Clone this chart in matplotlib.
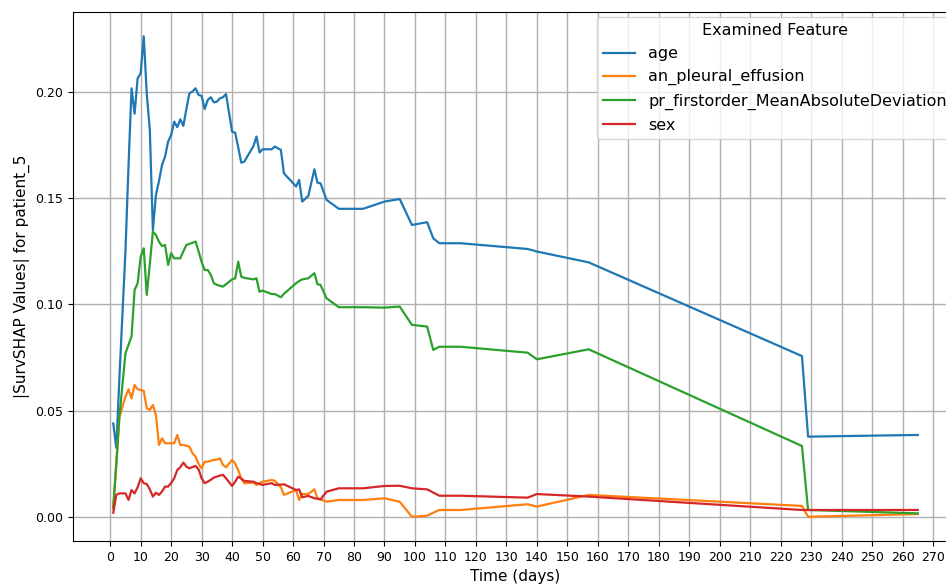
import numpy as np
import matplotlib
matplotlib.use("Agg")
import matplotlib.pyplot as plt

# event times (days) shared by all features
times = [1, 2, 3, 5, 6, 7, 8, 9, 10, 11, 12, 13, 14, 15, 16, 17, 18, 19, 20,
         21, 22, 23, 24, 25, 26, 27, 28, 29, 30, 31, 32, 33, 34, 35, 36, 37, 38,
         40, 41, 42, 43, 44, 47, 48, 49, 50, 53, 54, 56, 57, 61, 62, 63, 65, 67,
         68, 69, 71, 75, 83, 90, 95, 99, 104, 106, 108, 115, 137, 140, 157, 227,
         229, 265]

age = [0.044, 0.0325, 0.065, 0.125, 0.165, 0.2017, 0.1897, 0.2064, 0.2088, 0.2262,
       0.199, 0.182, 0.135, 0.1515, 0.158, 0.1656, 0.1696, 0.1766, 0.1798,
       0.186, 0.1834, 0.1871, 0.184, 0.192, 0.1994, 0.2002, 0.2017, 0.1986, 0.1981,
       0.1919, 0.1962, 0.1975, 0.1951, 0.1954, 0.197, 0.1975, 0.199,
       0.1813, 0.1808, 0.174, 0.1667, 0.1672, 0.1745, 0.179, 0.1715, 0.173, 0.173,
       0.1743, 0.1727, 0.1617, 0.1555, 0.1586, 0.1484, 0.151, 0.1636,
       0.1573, 0.157, 0.1492, 0.145, 0.145, 0.1484, 0.1496, 0.1374, 0.1387, 0.1311,
       0.1288, 0.1288, 0.1261, 0.1249, 0.1198, 0.0757,
       0.0378, 0.0386]

pleural = [0.0049, 0.025, 0.047, 0.0566, 0.0601, 0.0558, 0.0621, 0.0601, 0.0597, 0.0594,
           0.0511, 0.0504, 0.0527, 0.048, 0.0339, 0.037, 0.0347, 0.0347, 0.0347,
           0.0347, 0.0386, 0.0339, 0.0339, 0.0335, 0.0331, 0.03, 0.0284, 0.025, 0.0229,
           0.026, 0.026, 0.0265, 0.0268, 0.027, 0.0276, 0.0245, 0.0234,
           0.0268, 0.0252, 0.022, 0.0182, 0.0159, 0.0162, 0.0151, 0.016, 0.0166, 0.0174,
           0.017, 0.014, 0.0104, 0.0127, 0.008, 0.0108, 0.0108, 0.013,
           0.0088, 0.0083, 0.0072, 0.008, 0.008, 0.0088, 0.0072, 0.0001, 0.0006, 0.002,
           0.0033, 0.0033, 0.006, 0.0049, 0.0104, 0.0052,
           0.0001, 0.0014]

mad = [0.0041, 0.025, 0.047, 0.077, 0.081, 0.0849, 0.1068, 0.11, 0.1225, 0.1264,
       0.1045, 0.119, 0.1343, 0.1327, 0.1295, 0.1275, 0.128, 0.1186, 0.1241,
       0.1217, 0.1217, 0.1217, 0.125, 0.128, 0.1285, 0.129, 0.1296, 0.125, 0.12,
       0.1162, 0.1162, 0.114, 0.11, 0.1092, 0.1088, 0.1084, 0.1095,
       0.1118, 0.1123, 0.1201, 0.1131, 0.1125, 0.1118, 0.1123, 0.106, 0.1065, 0.1049,
       0.1049, 0.1034, 0.105, 0.11, 0.111, 0.1118, 0.1123, 0.1147,
       0.1095, 0.1092, 0.1029, 0.0987, 0.0987, 0.0985, 0.099, 0.0904, 0.0896, 0.0786,
       0.0801, 0.0801, 0.0773, 0.0742, 0.0789, 0.0334,
       0.0033, 0.0017]

sex = [0.002, 0.0104, 0.0111, 0.0111, 0.008, 0.0127, 0.0111, 0.014, 0.0182, 0.0159,
       0.0155, 0.013, 0.0096, 0.0114, 0.0104, 0.012, 0.0143, 0.0143, 0.016,
       0.0182, 0.0221, 0.0234, 0.0256, 0.0237, 0.0229, 0.0235, 0.024, 0.0224, 0.0182,
       0.0159, 0.0166, 0.0175, 0.0185, 0.019, 0.0195, 0.0198, 0.0182,
       0.0146, 0.0166, 0.019, 0.018, 0.017, 0.0166, 0.0159, 0.0155, 0.0151, 0.0159,
       0.0151, 0.0152, 0.0154, 0.0127, 0.013, 0.0093, 0.0099, 0.0088,
       0.0086, 0.0083, 0.0119, 0.0135, 0.0135, 0.0146, 0.0147, 0.0135, 0.013, 0.0115,
       0.01, 0.01, 0.0091, 0.0108, 0.0096, 0.0033,
       0.0033, 0.0033]

features = ["age", "an_pleural_effusion", "pr_firstorder_MeanAbsoluteDeviation", "sex"]
series = [age, pleural, mad, sex]
clr = ["#1f77b4", "#ff7f0e", "#2ca02c", "#d62728"]

fig = plt.figure(figsize=(9.46, 5.85), dpi=100)
# axes run a bit past the right edge, like the cropped original
ax = fig.add_axes([0.0772, 0.0752, 0.9355, 0.9043])

for i in range(len(features)):
    ax.plot(times, series[i], color=clr[i], linewidth=1.6, label=features[i])

ax.set_xticks(np.arange(0, 280, 10))
ax.set_yticks([0.0, 0.05, 0.10, 0.15, 0.20])
ax.set_xlim(-12.2, 278.2)
ax.set_ylim(-0.0113, 0.2376)
ax.tick_params(labelsize=9)
ax.grid(True, color="#b0b0b0", linewidth=1)
ax.set_axisbelow(True)
ax.set_xlabel("Time (days)", fontsize=11)
ax.set_ylabel("|SurvSHAP Values| for patient_5", fontsize=11)

leg = ax.legend(title="Examined Feature", loc="upper right", fontsize=11.5,
                title_fontsize=11.5, framealpha=0.8, borderaxespad=0.3)

fig.savefig("out.png", dpi=100)
